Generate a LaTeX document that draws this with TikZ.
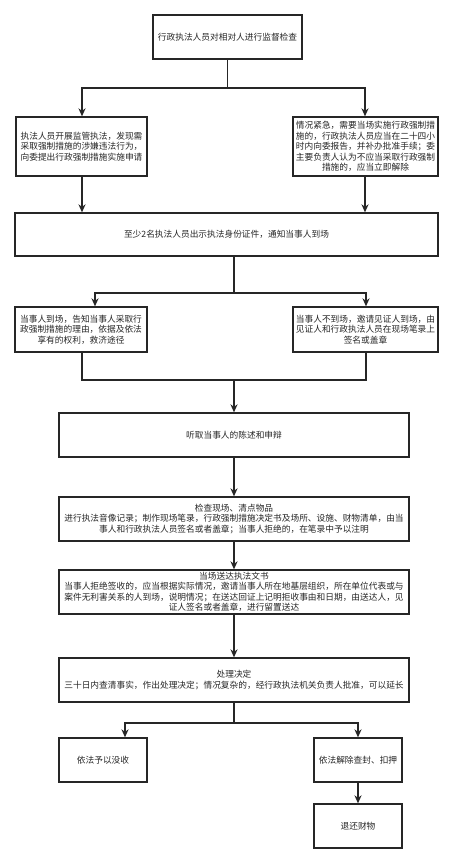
\documentclass[tikz,border=0pt]{standalone}
\usepackage{fontspec}
\setmainfont{Noto Sans CJK SC}
\usetikzlibrary{arrows.meta}
\begin{document}
\begin{tikzpicture}[x=1pt,y=1pt,
  box/.style={draw=black!85,line width=1.3pt,fill=white,inner sep=1pt,align=center,
    font=\fontsize{8.7}{10.5}\selectfont,text=black!85},
  conn/.style={draw=black!85,line width=1.3pt},
  arr/.style={conn,-{Stealth[length=8pt,width=7pt,inset=2.5pt]}}]
\useasboundingbox (0,0) rectangle (453,-864);
\fill[white] (0,0) rectangle (453,-864);
% nodes
\node[box,minimum width=149pt,minimum height=44pt] (b1) at (227.5,-37) {行政执法人员对相对人进行监督检查};
\node[box,minimum width=131pt,minimum height=59pt] (b2L) at (81.5,-146.5) {执法人员开展监管执法，发现需\\采取强制措施的涉嫌违法行为，\\向委提出行政强制措施实施申请};
\node[box,minimum width=145pt,minimum height=59pt] (b2R) at (365.5,-146.5) {情况紧急，需要当场实施行政强制措\\施的，行政执法人员应当在二十四小\\时内向委报告，并补办批准手续；委\\主要负责人认为不应当采取行政强制\\措施的，应当立即解除};
\node[box,minimum width=423pt,minimum height=43pt] (b3) at (226.5,-234.5) {至少2名执法人员出示执法身份证件，通知当事人到场};
\node[box,minimum width=132pt,minimum height=45pt] (b4L) at (81,-329.5) {当事人到场，告知当事人采取行\\政强制措施的理由，依据及依法\\享有的权利，救济途径};
\node[box,minimum width=145pt,minimum height=45pt] (b4R) at (365.5,-329.5) {当事人不到场，邀请见证人到场，由\\见证人和行政执法人员在现场笔录上\\签名或盖章};
\node[box,minimum width=350pt,minimum height=44pt] (b5) at (234,-435) {听取当事人的陈述和申辩};
\node[box,minimum width=350pt,minimum height=44pt] (b6) at (234,-519) {检查现场、清点物品\\进行执法音像记录；制作现场笔录，行政强制措施决定书及场所、设施、财物清单，由当\\事人和行政执法人员签名或者盖章；当事人拒绝的，在笔录中予以注明};
\node[box,minimum width=350pt,minimum height=44pt] (b7) at (234,-592) {当场送达执法文书\\当事人拒绝签收的，应当根据实际情况，邀请当事人所在地基层组织，所在单位代表或与\\案件无利害关系的人到场，说明情况；在送达回证上记明拒收事由和日期，由送达人，见\\证人签名或者盖章，进行留置送达};
\node[box,minimum width=350pt,minimum height=44pt] (b8) at (234,-680) {处理决定\\三十日内查清事实，作出处理决定；情况复杂的，经行政执法机关负责人批准，可以延长};
\node[box,minimum width=88pt,minimum height=44pt] (b9L) at (103,-760) {依法予以没收};
\node[box,minimum width=88pt,minimum height=44pt] (b9R) at (358,-760) {依法解除查封、扣押};
\node[box,minimum width=88pt,minimum height=44pt] (b10) at (358,-826) {退还财物};
% junctions
\coordinate (j1) at (227.5,-88);
\coordinate (j1L) at (82,-88);
\coordinate (j1R) at (365,-88);
\coordinate (j2) at (234,-293);
\coordinate (j2L) at (95,-293);
\coordinate (j2R) at (366,-293);
\coordinate (j3L) at (82,-380);
\coordinate (j3R) at (366,-380);
\coordinate (j3) at (234,-380);
\coordinate (j4) at (234,-723);
\coordinate (j4L) at (125,-723);
\coordinate (j4R) at (358,-723);
% connectors
\draw[conn] (b1.south) -- (j1);
\draw[arr] (j1) -- (j1L) -- (j1L |- b2L.north);
\draw[arr] (j1) -- (j1R) -- (j1R |- b2R.north);
\draw[arr] (j1L |- b2L.south) -- (j1L |- b3.north);
\draw[arr] (j1R |- b2R.south) -- (j1R |- b3.north);
\draw[conn] (j2 |- b3.south) -- (j2);
\draw[arr] (j2) -- (j2L) -- (j2L |- b4L.north);
\draw[arr] (j2) -- (j2R) -- (j2R |- b4R.north);
\draw[conn] (j3L |- b4L.south) -- (j3L) -- (j3R) -- (j3R |- b4R.south);
\draw[arr] (j3) -- (b5.north);
\draw[arr] (b5.south) -- (b6.north);
\draw[arr] (b6.south) -- (b7.north);
\draw[arr] (b7.south) -- (b8.north);
\draw[conn] (b8.south) -- (j4);
\draw[arr] (j4) -- (j4L) -- (j4L |- b9L.north);
\draw[arr] (j4) -- (j4R) -- (b9R.north);
\draw[arr] (b9R.south) -- (b10.north);
\end{tikzpicture}
\end{document}
